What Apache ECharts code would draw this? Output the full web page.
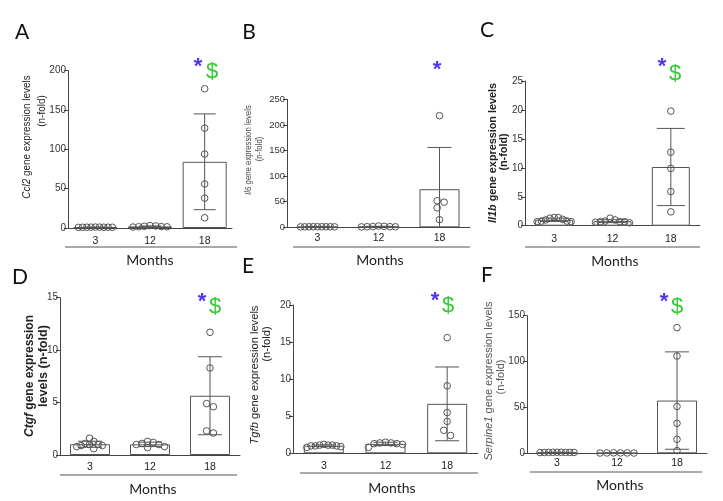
<!DOCTYPE html>
<html><head><meta charset="utf-8">
<script src="https://cdn.jsdelivr.net/npm/echarts@6/dist/echarts.min.js"></script>
<style>html,body{margin:0;padding:0;background:#fff}#c{width:723px;height:501px}</style>
</head><body><div id="c"></div>
<script>
// ---------------- DATA ----------------
const categories = ['3', '12', '18'];
// A – Ccl2
const ccl2_m3  = [1.0, 0.9, 1.1, 0.8, 1.2, 1.0, 0.9, 1.1, 1.0];
const ccl2_m12 = [2.2, 1.8, 2.6, 1.5, 3.0, 1.6, 1.2];
const ccl2_m18 = [177, 127, 94, 56, 38, 13];
// B – Il6
const il6_m3  = [1.0, 0.9, 1.1, 0.8, 1.2, 1.0, 0.9, 1.1, 1.0];
const il6_m12 = [1.5, 1.2, 1.8, 2.5, 1.0, 0.8, 1.2];
const il6_m18 = [218, 52, 49, 38, 15];
// C – Il1b
const il1b_m3  = [0.7, 0.7, 0.8, 1.1, 1.3, 1.4, 1.0, 1.4, 0.8];
const il1b_m12 = [0.8, 0.6, 0.7, 0.7, 1.0, 1.3, 0.7, 0.5];
const il1b_m18 = [19.8, 12.7, 9.9, 5.9, 2.4];
// D – Ctgf
const ctgf_m3  = [0.9, 1.0, 1.0, 0.9, 1.3, 1.6, 0.8, 1.1, 0.6];
const ctgf_m12 = [1.2, 1.0, 1.0, 1.1, 1.3, 0.8, 0.7];
const ctgf_m18 = [11.7, 8.3, 4.9, 4.6, 2.3, 2.1];
// E – Tgfb
const tgfb_m3  = [1.0, 1.0, 1.1, 1.1, 1.2, 1.1, 1.0, 0.9, 0.8];
const tgfb_m12 = [1.4, 1.3, 1.3, 1.4, 1.5, 1.2, 0.8];
const tgfb_m18 = [15.6, 9.1, 5.5, 4.3, 3.1, 2.4];
// F – Serpine1
const serpine1_m3  = [1.0, 0.9, 1.1, 1.0, 1.2, 0.8, 1.0, 1.1, 0.9];
const serpine1_m12 = [0.4, 0.3, 0.5, 0.4, 0.3, 0.4];
const serpine1_m18 = [137, 106, 51, 32.7, 15.3, 2.9];
// y-axis tick settings
const yMaxA = 200, yStepA = 50;
const yMaxB = 250, yStepB = 50;
const yMaxC = 25,  yStepC = 5;
const yMaxD = 15,  yStepD = 5;
const yMaxE = 20,  yStepE = 5;
const yMaxF = 150, yStepF = 50;
const xTitle = 'Months';

// ---------------- LAYOUT ----------------
const SANS = "'Liberation Sans',Arial,sans-serif";
const CAL = "Lato,'Open Sans',sans-serif";

const panels = [
  {letter:'A', gene:'Ccl2', groups:[ccl2_m3, ccl2_m12, ccl2_m18], ymax:yMaxA, step:yStepA,
   grid:{left:68, top:70.7, width:164, height:157.3}, barW:44, lm:8, cap:11, fs:10},
  {letter:'B', gene:'Il6', groups:[il6_m3, il6_m12, il6_m18], ymax:yMaxB, step:yStepB,
   grid:{left:287, top:99.3, width:183, height:128}, barW:40, lm:5, cap:12, fs:9.5},
  {letter:'C', gene:'Il1b', groups:[il1b_m3, il1b_m12, il1b_m18], ymax:yMaxC, step:yStepC,
   grid:{left:525, top:81, width:175, height:144.7}, barW:38, lm:8, cap:14, fs:10},
  {letter:'D', gene:'Ctgf', groups:[ctgf_m3, ctgf_m12, ctgf_m18], ymax:yMaxD, step:yStepD,
   grid:{left:60, top:297.7, width:180, height:157.3}, barW:40, lm:7, cap:12, fs:10},
  {letter:'E', gene:'Tgfb', groups:[tgfb_m3, tgfb_m12, tgfb_m18], ymax:yMaxE, step:yStepE,
   grid:{left:293, top:305, width:185, height:148.3}, barW:40, lm:7, cap:12, fs:10},
  {letter:'F', gene:'Serpine1', groups:[serpine1_m3, serpine1_m12, serpine1_m18], ymax:yMaxF, step:yStepF,
   grid:{left:527, top:315.7, width:180, height:137.6}, barW:40, lm:4, cap:12, fs:10}
];

function mean(a){return a.reduce((s,v)=>s+v,0)/a.length;}
function sd(a){const m=mean(a);return Math.sqrt(a.reduce((s,v)=>s+(v-m)*(v-m),0)/(a.length-1));}

// beeswarm offsets in px, each colliding cluster centred on the category
function swarm(vals, pxPerUnit, step, dMin){
  const idx = vals.map((v,i)=>i).sort((a,b)=>vals[b]-vals[a]);
  const placed = []; const off = vals.map(()=>0);
  for(const i of idx){
    const y = vals[i]*pxPerUnit;
    for(let k=0;k<60;k++){
      const c = k===0 ? 0 : (k%2 ? Math.ceil(k/2)*step : -Math.ceil(k/2)*step);
      const ok = placed.every(p => Math.abs(p.y-y) >= dMin || Math.abs(p.x-c) >= step-0.01);
      if(ok){off[i]=c; placed.push({x:c,y:y}); break;}
    }
  }
  // cluster centring
  const comp = vals.map(()=>-1); let nc=0;
  for(let i=0;i<vals.length;i++){
    if(comp[i]>=0) continue;
    const stack=[i]; comp[i]=nc;
    while(stack.length){
      const a=stack.pop();
      for(let b=0;b<vals.length;b++){
        if(comp[b]<0 && Math.abs(vals[a]-vals[b])*pxPerUnit < dMin){comp[b]=nc; stack.push(b);}
      }
    }
    nc++;
  }
  for(let c=0;c<nc;c++){
    const mem=[]; comp.forEach((v,i)=>{if(v===c) mem.push(i);});
    const mx=mem.reduce((s,i)=>s+off[i],0)/mem.length;
    mem.forEach(i=>off[i]-=mx);
  }
  return off;
}

const grids=[], xAxes=[], yAxes=[], series=[];
panels.forEach((p,pi)=>{
  grids.push(p.grid);
  xAxes.push({type:'category', gridIndex:pi, data:categories,
    axisLine:{lineStyle:{color:'#444', width:1}}, axisTick:{show:false},
    axisLabel:{color:'#222', fontFamily:SANS, fontSize:10.5, margin:p.lm}, splitLine:{show:false}});
  yAxes.push({type:'value', gridIndex:pi, min:0, max:p.ymax, interval:p.step,
    axisLine:{show:true, lineStyle:{color:'#444', width:1}},
    axisTick:{show:true, length:4, lineStyle:{color:'#444'}},
    axisLabel:{color:'#333', fontFamily:SANS, fontSize:p.fs, margin:2},
    splitLine:{show:false}});
  const means = p.groups.map(mean), sds = p.groups.map(sd);
  series.push({type:'bar', xAxisIndex:pi, yAxisIndex:pi, data:means, barWidth:p.barW,
    itemStyle:{color:'#fff', borderColor:'#555', borderWidth:1}, z:1, silent:true, animation:false});
  const cap = p.cap;
  series.push({type:'custom', xAxisIndex:pi, yAxisIndex:pi, z:2, silent:true, animation:false,
    data: means.map((m,i)=>[i, m, sds[i]]),
    renderItem:function(params, api){
      const x=api.value(0), m=api.value(1), s=api.value(2);
      const hi=api.coord([x, m+s]); const low=m-s;
      const lo=api.coord([x, Math.max(0, low)]);
      const st={stroke:'#555', lineWidth:1};
      const ch=[{type:'line', shape:{x1:hi[0], y1:hi[1], x2:lo[0], y2:lo[1]}, style:st},
                {type:'line', shape:{x1:hi[0]-cap, y1:hi[1], x2:hi[0]+cap, y2:hi[1]}, style:st}];
      if(low>=0) ch.push({type:'line', shape:{x1:lo[0]-cap, y1:lo[1], x2:lo[0]+cap, y2:lo[1]}, style:st});
      return {type:'group', children:ch};
    }});
  const pxPerUnit = p.grid.height/p.ymax;
  const pts=[];
  p.groups.forEach((g,gi)=>{
    const step = Math.min(7, 34/(g.length-1));
    const off = swarm(g, pxPerUnit, step, 6);
    g.forEach((v,k)=>pts.push([gi, v, off[k]]));
  });
  series.push({type:'custom', xAxisIndex:pi, yAxisIndex:pi, z:3, silent:true, animation:false,
    data:pts,
    renderItem:function(params, api){
      const c=api.coord([api.value(0), api.value(1)]);
      return {type:'circle', shape:{cx:c[0]+api.value(2), cy:c[1], r:3.3},
        style:{fill:'rgba(255,255,255,0)', stroke:'#555', lineWidth:1}};
    }});
});

// ---------------- ANNOTATIONS ----------------
const G=[];
function txt(x,y,text,font,fill){
  G.push({type:'text', x:x, y:y, silent:true,
    style:{text:text, font:font, fill:fill, align:'center', verticalAlign:'middle'}});
}
const letters=[['A',22,32],['B',249,32],['C',487,30],['D',20,277],['E',248,266],['F',487,275]];
letters.forEach(l=>txt(l[1],l[2],l[0],'21px '+CAL,'#111'));
const months=[[150,260],[380,260],[615,261],[153,489],[392,488],[620,485]];
months.forEach(m=>txt(m[0],m[1],xTitle,'14px '+CAL,'#222'));
const lines=[[65,237,247],[293,470,247],[525,700,247],[60,237,475],[300,478,473],[530,702,472]];
lines.forEach(l=>G.push({type:'line', silent:true, shape:{x1:l[0], y1:l[2], x2:l[1], y2:l[2]}, style:{stroke:'#555', lineWidth:1}}));
const stars=[[198,67,212,72],[437,70,null,null],[662,67,675,74],[202,302,215,307],[435,301,448,306],[664,302,677,307]];
stars.forEach(s=>{
  txt(s[0],s[1],'*','bold 22px '+SANS,'#5533ee');
  if(s[2]!==null) txt(s[2],s[3],'$','22px '+SANS,'#33cc33');
});
// y titles (scaleX compresses along the reading direction to imitate a condensed face)
function ytitle(x,y,gene,rest,size,weight,fill,sx){
  const base={fontSize:size, fontFamily:SANS, fontWeight:weight, fill:fill};
  const rich={i:Object.assign({fontStyle:'italic'},base), n:Object.assign({fontStyle:'normal'},base)};
  const t = (gene?'{i|'+gene+'}':'')+'{n|'+rest+'}';
  G.push({type:'text', x:x, y:y, rotation:Math.PI/2, scaleX:sx||1, silent:true,
    style:{text:t, rich:rich, align:'center', verticalAlign:'middle', fontSize:size, fontFamily:SANS}});
}
ytitle(27,137,'Ccl2',' gene expression levels',11,'normal','#222',0.9);
ytitle(42,111,'','(n-fold)',11,'normal','#222',0.9);
ytitle(248,150,'Il6',' gene expression levels',9.5,'normal','#444',0.82);
ytitle(259,149,'','(n-fold)',9.5,'normal','#444',0.82);
ytitle(493,153,'Il1b',' gene expression levels',11.5,'bold','#222',0.94);
ytitle(504,152,'','(n-fold)',11.5,'bold','#222',0.94);
ytitle(30,376,'Ctgf',' gene expression',12,'bold','#222',1);
ytitle(44,366,'','levels (n-fold)',12,'bold','#222',1.05);
ytitle(255,375,'Tgfb',' gene expression levels',11.5,'normal','#222',0.97);
ytitle(267,344,'','(n-fold)',11.5,'normal','#222',0.97);
ytitle(489,381,'Serpine1',' gene expression levels',11,'normal','#555',1);
ytitle(501,377,'','(n-fold)',11,'normal','#555',1);

const chart=echarts.init(document.getElementById('c'), null, {renderer:'canvas'});
chart.setOption({animation:false, backgroundColor:'#fff', grid:grids, xAxis:xAxes, yAxis:yAxes, series:series, graphic:G});
</script></body></html>
